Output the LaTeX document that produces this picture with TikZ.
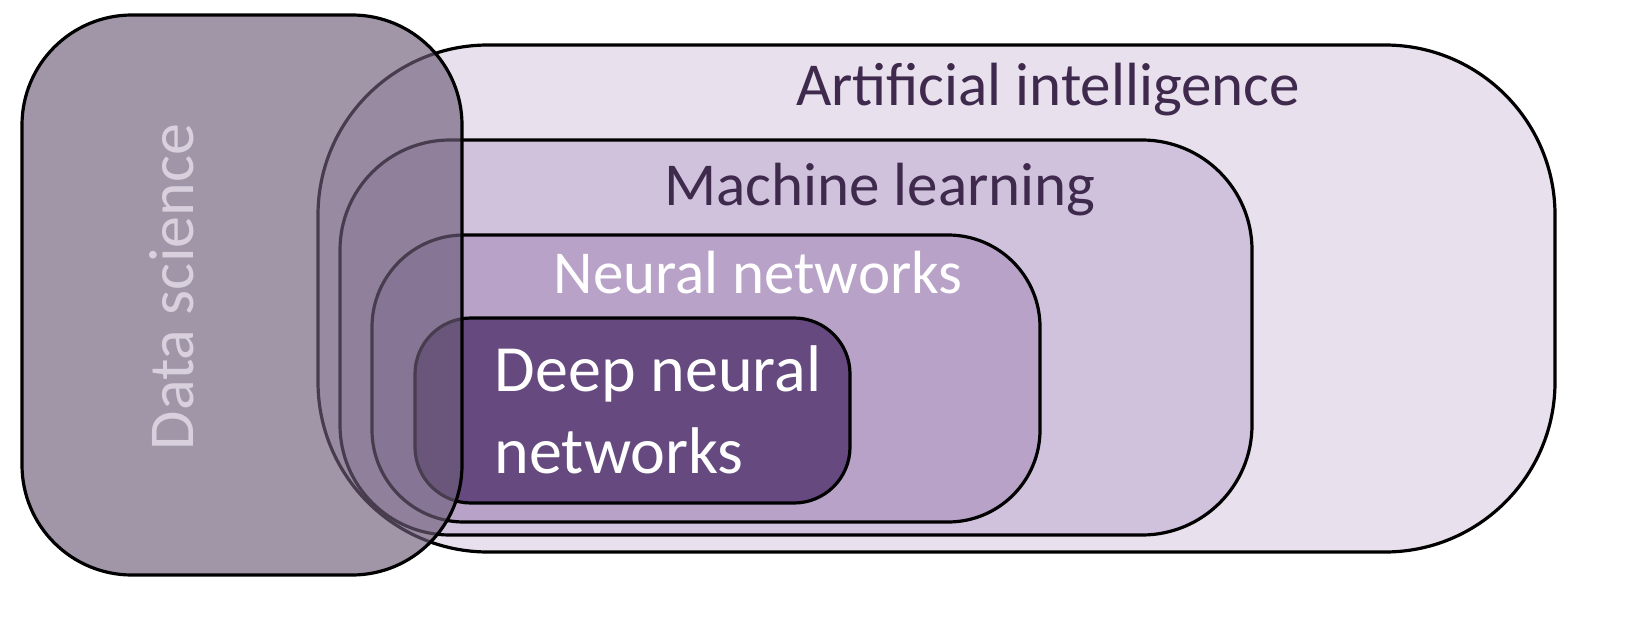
\documentclass[tikz,border=0pt]{standalone}
\usepackage{fontspec}
\setmainfont{Carlito}
\begin{document}%
\begin{tikzpicture}[x=0.5pt,y=0.5pt,
  box/.style={draw=black,line width=1.6pt},
  lbl/.style={font=\fontsize{30.5}{36}\selectfont,inner sep=0pt}]
\useasboundingbox (0,0) rectangle (1631,617);
\clip (0,0) rectangle (1631,617);
\draw[box,fill={rgb,255:red,232;green,224;blue,236},rounded corners=85pt] (318,65) rectangle (1555,572);
\draw[box,fill={rgb,255:red,208;green,194;blue,220},rounded corners=55pt] (340,82) rectangle (1252,477);
\draw[box,fill={rgb,255:red,184;green,162;blue,200},rounded corners=46pt] (372,95) rectangle (1040,382);
\draw[box,fill={rgb,255:red,102;green,73;blue,127},rounded corners=28pt] (415,114) rectangle (850,299);
\draw[box,fill={rgb,255:red,110;green,94;blue,122},fill opacity=0.65,rounded corners=55pt] (22,42) rectangle (462,602);
\node[lbl,text={rgb,255:red,63;green,42;blue,78}] (ai) at (1048,527) {Artificial intelligence};
\node[lbl,text={rgb,255:red,63;green,42;blue,78}] (ml) at (880,427) {Machine learning};
\node[lbl,text=white] (nn) at (758,344) {Neural networks};
\node[lbl,text=white,align=left,font=\fontsize{33}{41}\selectfont] (dnn) at (658,207) {Deep neural\\networks};
\node[lbl,text={rgb,255:red,216;green,208;blue,220},rotate=90,font=\fontsize{32}{36}\selectfont] (ds) at (172,330) {Data science};
\end{tikzpicture}%
\end{document}
